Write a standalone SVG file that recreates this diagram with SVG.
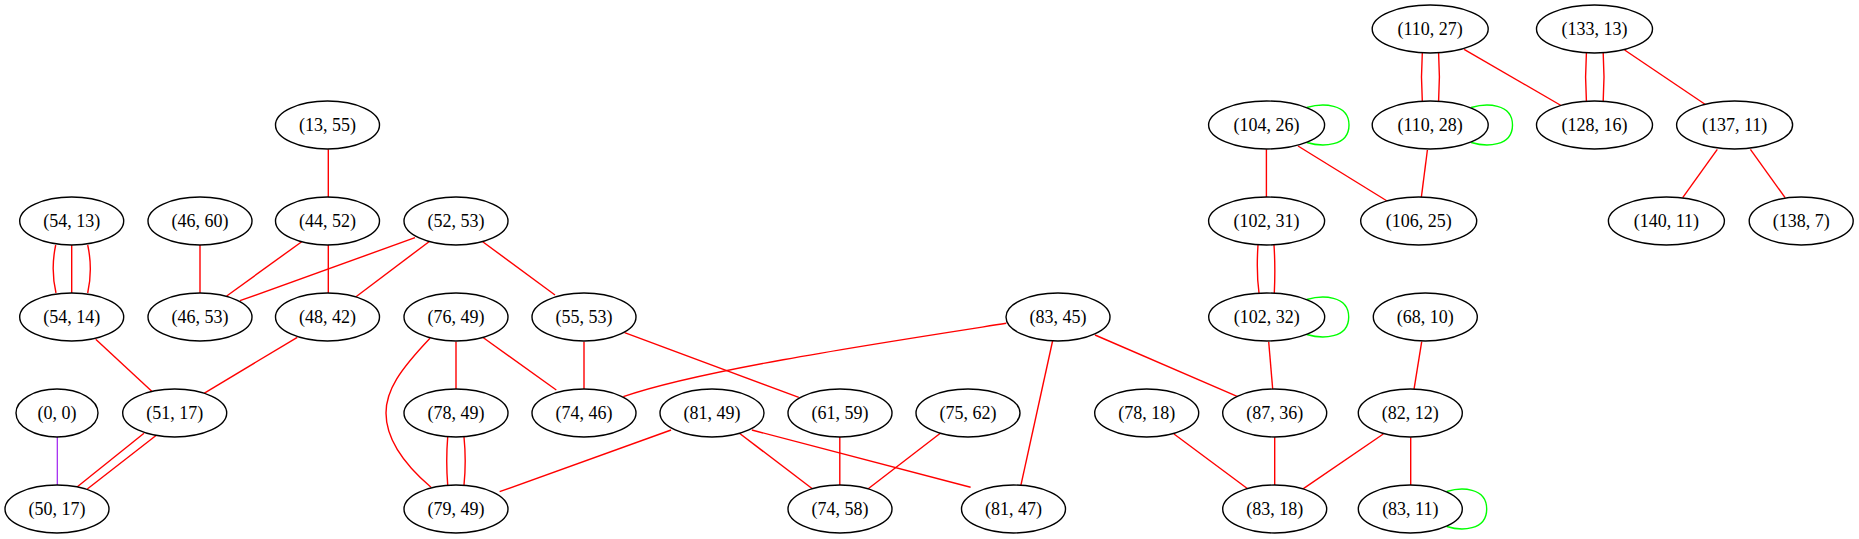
<svg xmlns="http://www.w3.org/2000/svg" width="1859" height="539" viewBox="0 0 1859 539">
<style>
.e{fill:none;stroke:#ff0000;stroke-width:1.4}
.g{fill:none;stroke:#00ff00;stroke-width:1.4}
.p{fill:none;stroke:#a020f0;stroke-width:1.2}
.n ellipse{fill:#ffffff;stroke:#000000;stroke-width:1.4}
.n text{font-family:"Liberation Serif","Times New Roman",serif;font-size:18px;text-anchor:middle;fill:#000000}
</style>
<rect width="1859" height="539" fill="#ffffff"/>
<g id="edges">
<path class="e" d="M328.3,149.3 L328.3,197.3"/>
<path class="e" d="M71.7,245 L71.7,293"/>
<path class="e" d="M55.7,245 C52.5,260 52.5,278 56,293"/>
<path class="e" d="M87.7,245 C91,260 91,278 87.7,293"/>
<path class="e" d="M200,245 L200,293"/>
<path class="e" d="M301.7,241.7 L226.7,296"/>
<path class="e" d="M328.3,245 L328.3,293"/>
<path class="e" d="M415,237.7 L240,300.7"/>
<path class="e" d="M429,241.7 L356,296.7"/>
<path class="e" d="M482.7,241.7 L555,295"/>
<path class="e" d="M95.7,339.3 L152.3,391.7"/>
<path class="e" d="M297.3,337.3 L204,393.3"/>
<path class="p" d="M57.3,436.7 L57.3,485.7"/>
<path class="e" d="M144,433.3 L76.7,487.3"/>
<path class="e" d="M155.7,435.7 L87.3,489"/>
<path class="e" d="M456,341.7 L456,389.3"/>
<path class="e" d="M430,338.3 C400,370 386,390 386,413 C386,440 405,465 431,487.3"/>
<path class="e" d="M482.7,337.3 L556.3,390"/>
<path class="e" d="M447.7,437 C446.5,452 446.5,470 447.7,485"/>
<path class="e" d="M464,437 C465.5,452 465.5,470 464,485"/>
<path class="e" d="M671.1,430 L499.6,491.7"/>
<path class="e" d="M584,341.7 L584,389.3"/>
<path class="e" d="M624.6,332.7 L798.8,397.3"/>
<path class="e" d="M1006.3,323.3 C880,343 700,370 623.3,396.7"/>
<path class="e" d="M1052.8,340 L1020.6,486.7"/>
<path class="e" d="M739.4,433.3 L815.3,491"/>
<path class="e" d="M751.9,430 L970.6,487.3"/>
<path class="e" d="M839.8,436.7 L839.8,486"/>
<path class="e" d="M940.3,433.3 L866.6,490"/>
<path class="e" d="M1095,335 L1237.7,396.7"/>
<path class="e" d="M1268.7,341.7 L1272.7,389.3"/>
<path class="e" d="M1421.7,341.7 L1414,389.3"/>
<path class="e" d="M1174,434 L1248.3,489.3"/>
<path class="e" d="M1274.7,437.3 L1274.7,485.7"/>
<path class="e" d="M1383.3,434 L1302.3,489.3"/>
<path class="e" d="M1410.7,437.3 L1410.7,485.7"/>
<path class="e" d="M1258,245 C1257,260 1257,278 1259,293"/>
<path class="e" d="M1274,245 C1275,260 1275,278 1274.3,293"/>
<path class="e" d="M1266.4,149.3 L1266.4,197"/>
<path class="e" d="M1298,146 L1387.1,201"/>
<path class="e" d="M1427.4,150 L1421.3,197.7"/>
<path class="e" d="M1422.3,53 C1421.3,68 1421.3,86 1422.3,101"/>
<path class="e" d="M1438.6,53 C1439.6,68 1439.6,86 1438.6,101"/>
<path class="e" d="M1464.1,49.3 L1561.9,106"/>
<path class="e" d="M1586.4,53 C1585.4,68 1585.4,86 1586.4,101"/>
<path class="e" d="M1603.2,53 C1604.2,68 1604.2,86 1603.2,101"/>
<path class="e" d="M1624.6,50 L1706.1,105"/>
<path class="e" d="M1717.3,149.3 L1682.7,197.7"/>
<path class="e" d="M1750.4,149.3 L1785.1,197.7"/>
<path class="g" d="M1306.7,107.5 C1322,103 1349,103 1349,125 C1349,147 1322,147 1306.7,142.5"/>
<path class="g" d="M1471.2,107.5 C1486,103 1512.5,103 1512.5,125 C1512.5,147 1486,147 1471.2,142.5"/>
<path class="g" d="M1306.7,299.5 C1322,295 1348.7,295 1348.7,317 C1348.7,339 1322,339 1306.7,334.5"/>
<path class="g" d="M1446.7,491.5 C1461,487 1486.7,487 1486.7,509 C1486.7,531 1461,531 1446.7,526.5"/>
</g>
<g id="n13_55" class="n"><ellipse cx="327.5" cy="125" rx="52" ry="24"/><text x="327.5" y="131">(13, 55)</text></g>
<g id="n54_13" class="n"><ellipse cx="71.7" cy="221" rx="52" ry="24"/><text x="71.7" y="227">(54, 13)</text></g>
<g id="n46_60" class="n"><ellipse cx="200" cy="221" rx="52" ry="24"/><text x="200" y="227">(46, 60)</text></g>
<g id="n44_52" class="n"><ellipse cx="327.5" cy="221" rx="52" ry="24"/><text x="327.5" y="227">(44, 52)</text></g>
<g id="n52_53" class="n"><ellipse cx="456" cy="221" rx="52" ry="24"/><text x="456" y="227">(52, 53)</text></g>
<g id="n54_14" class="n"><ellipse cx="71.7" cy="317" rx="52" ry="24"/><text x="71.7" y="323">(54, 14)</text></g>
<g id="n46_53" class="n"><ellipse cx="200" cy="317" rx="52" ry="24"/><text x="200" y="323">(46, 53)</text></g>
<g id="n48_42" class="n"><ellipse cx="327.5" cy="317" rx="52" ry="24"/><text x="327.5" y="323">(48, 42)</text></g>
<g id="n76_49" class="n"><ellipse cx="456" cy="317" rx="52" ry="24"/><text x="456" y="323">(76, 49)</text></g>
<g id="n55_53" class="n"><ellipse cx="584" cy="317" rx="52" ry="24"/><text x="584" y="323">(55, 53)</text></g>
<g id="n83_45" class="n"><ellipse cx="1058" cy="317" rx="52" ry="24"/><text x="1058" y="323">(83, 45)</text></g>
<g id="n102_32" class="n"><ellipse cx="1266.7" cy="317" rx="58" ry="24"/><text x="1266.7" y="323">(102, 32)</text></g>
<g id="n68_10" class="n"><ellipse cx="1425.3" cy="317" rx="52" ry="24"/><text x="1425.3" y="323">(68, 10)</text></g>
<g id="n0_0" class="n"><ellipse cx="57" cy="413" rx="41" ry="24"/><text x="57" y="419">(0, 0)</text></g>
<g id="n51_17" class="n"><ellipse cx="174.7" cy="413" rx="52" ry="24"/><text x="174.7" y="419">(51, 17)</text></g>
<g id="n78_49" class="n"><ellipse cx="456" cy="413" rx="52" ry="24"/><text x="456" y="419">(78, 49)</text></g>
<g id="n74_46" class="n"><ellipse cx="584" cy="413" rx="52" ry="24"/><text x="584" y="419">(74, 46)</text></g>
<g id="n81_49" class="n"><ellipse cx="712" cy="413" rx="52" ry="24"/><text x="712" y="419">(81, 49)</text></g>
<g id="n61_59" class="n"><ellipse cx="840" cy="413" rx="52" ry="24"/><text x="840" y="419">(61, 59)</text></g>
<g id="n75_62" class="n"><ellipse cx="968" cy="413" rx="52" ry="24"/><text x="968" y="419">(75, 62)</text></g>
<g id="n78_18" class="n"><ellipse cx="1146.7" cy="413" rx="52" ry="24"/><text x="1146.7" y="419">(78, 18)</text></g>
<g id="n87_36" class="n"><ellipse cx="1274.7" cy="413" rx="52" ry="24"/><text x="1274.7" y="419">(87, 36)</text></g>
<g id="n82_12" class="n"><ellipse cx="1410.3" cy="413" rx="52" ry="24"/><text x="1410.3" y="419">(82, 12)</text></g>
<g id="n50_17" class="n"><ellipse cx="57" cy="509" rx="52" ry="24"/><text x="57" y="515">(50, 17)</text></g>
<g id="n79_49" class="n"><ellipse cx="456" cy="509" rx="52" ry="24"/><text x="456" y="515">(79, 49)</text></g>
<g id="n74_58" class="n"><ellipse cx="840" cy="509" rx="52" ry="24"/><text x="840" y="515">(74, 58)</text></g>
<g id="n81_47" class="n"><ellipse cx="1013.5" cy="509" rx="52" ry="24"/><text x="1013.5" y="515">(81, 47)</text></g>
<g id="n83_18" class="n"><ellipse cx="1274.7" cy="509" rx="52" ry="24"/><text x="1274.7" y="515">(83, 18)</text></g>
<g id="n83_11" class="n"><ellipse cx="1410.3" cy="509" rx="52" ry="24"/><text x="1410.3" y="515">(83, 11)</text></g>
<g id="n110_27" class="n"><ellipse cx="1430.2" cy="29" rx="58" ry="24"/><text x="1430.2" y="35">(110, 27)</text></g>
<g id="n133_13" class="n"><ellipse cx="1594.5" cy="29" rx="58" ry="24"/><text x="1594.5" y="35">(133, 13)</text></g>
<g id="n104_26" class="n"><ellipse cx="1266.6" cy="125" rx="58" ry="24"/><text x="1266.6" y="131">(104, 26)</text></g>
<g id="n110_28" class="n"><ellipse cx="1430.2" cy="125" rx="58" ry="24"/><text x="1430.2" y="131">(110, 28)</text></g>
<g id="n128_16" class="n"><ellipse cx="1594.5" cy="125" rx="58" ry="24"/><text x="1594.5" y="131">(128, 16)</text></g>
<g id="n137_11" class="n"><ellipse cx="1734.6" cy="125" rx="58" ry="24"/><text x="1734.6" y="131">(137, 11)</text></g>
<g id="n102_31" class="n"><ellipse cx="1266.6" cy="221" rx="58" ry="24"/><text x="1266.6" y="227">(102, 31)</text></g>
<g id="n106_25" class="n"><ellipse cx="1418.7" cy="221" rx="58" ry="24"/><text x="1418.7" y="227">(106, 25)</text></g>
<g id="n140_11" class="n"><ellipse cx="1666.4" cy="221" rx="58" ry="24"/><text x="1666.4" y="227">(140, 11)</text></g>
<g id="n138_7" class="n"><ellipse cx="1801.2" cy="221" rx="52" ry="24"/><text x="1801.2" y="227">(138, 7)</text></g>
</svg>
